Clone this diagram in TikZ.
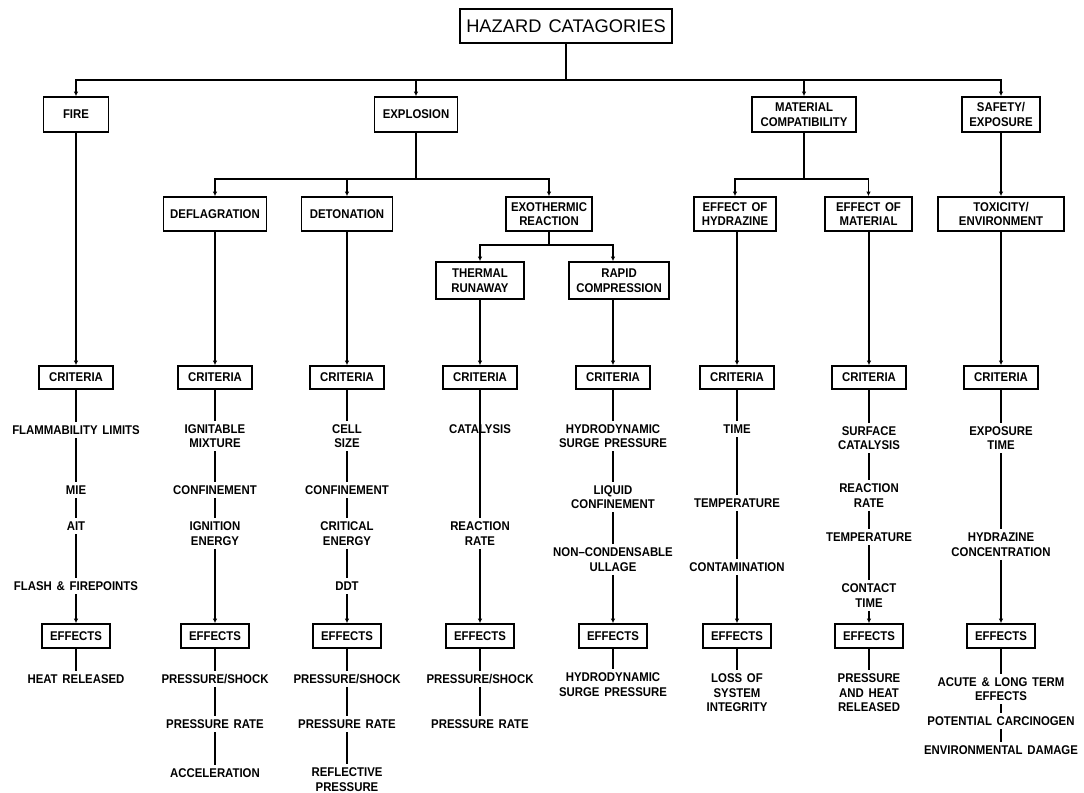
\documentclass[tikz,border=0pt]{standalone}
\usepackage{fontspec}
\usepackage{tikz}
\usetikzlibrary{arrows.meta}
\newfontfamily\cadfont{Liberation Sans}[FakeStretch=0.9, WordSpace=1.5]
\newfontfamily\titlefont{Liberation Sans}[WordSpace=1.4]
\newcommand{\px}{0.025cm}
\newcommand{\tipArrow}{{Latex[length=1.1mm, width=1.1mm]}}
\tikzset{
	hzbox/.style={draw, inner sep=0pt, align=center, minimum height=23*\px,
		font=\cadfont\bfseries\fontsize{9}{10.3}\selectfont},
	item/.style={inner sep=2pt, align=center, font=\cadfont\bfseries\fontsize{9}{10.3}\selectfont},
	feed/.style={-\tipArrow}
}

\begin{document}
\begin{tikzpicture}[x=0.025cm, y=-0.025cm, line width=1.25pt]
	\def\yc{377.5}
	\def\ye{636}
	\useasboundingbox (0,0) rectangle (1084,792);

	% top levels
	\node[hzbox, font=\titlefont\fontsize{13}{15}\selectfont, minimum width=212*\px, minimum height=34*\px] (hazard) at (566,26) {HAZARD CATAGORIES};

	\node[hzbox, minimum width=65*\px, minimum height=35*\px] (fire) at (76,114.5) {FIRE};
	\node[hzbox, minimum width=83*\px, minimum height=35*\px] (explosion) at (416,114.5) {EXPLOSION};
	\node[hzbox, minimum width=104*\px, minimum height=35*\px] (material) at (804,114.5) {MATERIAL\\COMPATIBILITY};
	\node[hzbox, minimum width=78*\px, minimum height=35*\px] (safety) at (1001,114.5) {SAFETY/\\EXPOSURE};

	\node[hzbox, minimum width=103*\px, minimum height=34*\px] (deflag) at (215,214) {DEFLAGRATION};
	\node[hzbox, minimum width=91*\px, minimum height=34*\px] (deton) at (347,214) {DETONATION};
	\node[hzbox, minimum width=86*\px, minimum height=34*\px] (exo) at (549,214) {EXOTHERMIC\\REACTION};
	\node[hzbox, minimum width=82*\px, minimum height=34*\px] (effhyd) at (735,214) {EFFECT OF\\HYDRAZINE};
	\node[hzbox, minimum width=87*\px, minimum height=34*\px] (effmat) at (868.5,214) {EFFECT OF\\MATERIAL};
	\node[hzbox, minimum width=126*\px, minimum height=34*\px] (toxic) at (1001,214) {TOXICITY/\\ENVIRONMENT};

	\node[hzbox, minimum width=88*\px, minimum height=37*\px] (thermal) at (480,280.5) {THERMAL\\RUNAWAY};
	\node[hzbox, minimum width=100*\px, minimum height=37*\px] (rapid) at (619,280.5) {RAPID\\COMPRESSION};

	% criteria and effects
	\node[hzbox, minimum width=74*\px] (firecrit) at (76,\yc) {CRITERIA};
	\node[hzbox, minimum width=74*\px] (deflcrit) at (215,\yc) {CRITERIA};
	\node[hzbox, minimum width=74*\px] (detcrit) at (347,\yc) {CRITERIA};
	\node[hzbox, minimum width=74*\px] (thermcrit) at (480,\yc) {CRITERIA};
	\node[hzbox, minimum width=74*\px] (rapidcrit) at (613,\yc) {CRITERIA};
	\node[hzbox, minimum width=74*\px] (hydcrit) at (737,\yc) {CRITERIA};
	\node[hzbox, minimum width=74*\px] (matcrit) at (869,\yc) {CRITERIA};
	\node[hzbox, minimum width=74*\px] (toxcrit) at (1001,\yc) {CRITERIA};

	\node[hzbox, minimum width=68*\px, minimum height=24*\px] (fireeff) at (76,\ye) {EFFECTS};
	\node[hzbox, minimum width=68*\px, minimum height=24*\px] (defleff) at (215,\ye) {EFFECTS};
	\node[hzbox, minimum width=68*\px, minimum height=24*\px] (deteff) at (347,\ye) {EFFECTS};
	\node[hzbox, minimum width=68*\px, minimum height=24*\px] (thermeff) at (480,\ye) {EFFECTS};
	\node[hzbox, minimum width=68*\px, minimum height=24*\px] (rapideff) at (613,\ye) {EFFECTS};
	\node[hzbox, minimum width=68*\px, minimum height=24*\px] (hydeff) at (737,\ye) {EFFECTS};
	\node[hzbox, minimum width=68*\px, minimum height=24*\px] (mateff) at (869,\ye) {EFFECTS};
	\node[hzbox, minimum width=68*\px, minimum height=24*\px] (toxeff) at (1001,\ye) {EFFECTS};

	% fire
	\node[item] (flamm) at (76,430) {FLAMMABILITY LIMITS};
	\node[item] (mie) at (76,490) {MIE};
	\node[item] (ait) at (76,526) {AIT};
	\node[item] (flash) at (76,586) {FLASH \& FIREPOINTS};
	\node[item] (heat) at (76,679) {HEAT RELEASED};

	% deflagration
	\node[item] (ignit) at (215,436) {IGNITABLE\\MIXTURE};
	\node[item] (confa) at (215,490) {CONFINEMENT};
	\node[item] (ignen) at (215,533.5) {IGNITION\\ENERGY};
	\node[item] (pressa) at (215,679) {PRESSURE/SHOCK};
	\node[item] (ratea) at (215,724) {PRESSURE RATE};
	\node[item] (accel) at (215,773) {ACCELERATION};

	% detonation
	\node[item] (cell) at (347,436) {CELL\\SIZE};
	\node[item] (confb) at (347,490) {CONFINEMENT};
	\node[item] (criten) at (347,533.5) {CRITICAL\\ENERGY};
	\node[item] (ddt) at (347,586) {DDT};
	\node[item] (pressb) at (347,679) {PRESSURE/SHOCK};
	\node[item] (rateb) at (347,724) {PRESSURE RATE};
	\node[item] (refl) at (347,779.5) {REFLECTIVE\\PRESSURE};

	% thermal runaway
	\node[item] (catal) at (480,429) {CATALYSIS};
	\node[item] (threact) at (480,533.5) {REACTION\\RATE};
	\node[item] (pressc) at (480,679) {PRESSURE/SHOCK};
	\node[item] (ratec) at (480,724) {PRESSURE RATE};

	% rapid compression
	\node[item] (hydro) at (613,436) {HYDRODYNAMIC\\SURGE PRESSURE};
	\node[item] (liquid) at (613,497) {LIQUID\\CONFINEMENT};
	\node[item] (noncond) at (613,559.5) {NON\textendash CONDENSABLE\\ULLAGE};
	\node[item] (surge) at (613,684.5) {HYDRODYNAMIC\\SURGE PRESSURE};

	% effect of hydrazine
	\node[item] (time) at (737,429) {TIME};
	\node[item] (tempa) at (737,503) {TEMPERATURE};
	\node[item] (contam) at (737,567) {CONTAMINATION};
	\node[item] (loss) at (737,693) {LOSS OF\\SYSTEM\\INTEGRITY};

	% effect of material
	\node[item] (surf) at (869,438) {SURFACE\\CATALYSIS};
	\node[item] (matreact) at (869,495.5) {REACTION\\RATE};
	\node[item] (tempb) at (869,537) {TEMPERATURE};
	\node[item] (contact) at (869,595.5) {CONTACT\\TIME};
	\node[item] (heatrel) at (869,693) {PRESSURE\\AND HEAT\\RELEASED};

	% toxicity
	\node[item] (expo) at (1001,438) {EXPOSURE\\TIME};
	\node[item] (hydconc) at (1001,544.5) {HYDRAZINE\\CONCENTRATION};
	\node[item] (acute) at (1001,689) {ACUTE \& LONG TERM\\EFFECTS};
	\node[item] (carcin) at (1001,721) {POTENTIAL CARCINOGEN};
	\node[item] (envdam) at (1001,750) {ENVIRONMENTAL DAMAGE};

	% tree connectors
	\draw (hazard.south) -- ++(0,36) coordinate (topbus);
	\draw[feed] (topbus) -| (fire);
	\draw[feed] (topbus) -| (explosion);
	\draw[feed] (topbus) -| (material);
	\draw[feed] (topbus) -| (safety);

	\draw (explosion.south) -- ++(0,46) coordinate (expbus);
	\draw[feed] (expbus) -| (deflag);
	\draw[feed] (expbus) -| (deton);
	\draw[feed] (expbus) -| (exo);
	\draw (exo.south) -- ++(0,13) coordinate (exobus);
	\draw[feed] (exobus) -| (thermal);
	\draw[feed] (exobus) -| (rapidcrit |- rapid.north);

	\draw (material.south) -- ++(0,46) coordinate (matbus);
	\draw[feed] (matbus) -| (effhyd);
	\draw[feed] (matbus) -| (effmat);
	\draw[feed] (safety) -- (toxic);

	% columns
	\draw[feed] (fire) -- (firecrit);
	\draw (firecrit) -- (flamm) -- (mie) -- (ait) -- (flash);
	\draw[feed] (flash) -- (fireeff);
	\draw (fireeff) -- (heat);

	\draw[feed] (deflag) -- (deflcrit);
	\draw (deflcrit) -- (ignit) -- (confa) -- (ignen);
	\draw[feed] (ignen) -- (defleff);
	\draw (defleff) -- (pressa) -- (ratea) -- (accel);

	\draw[feed] (deton) -- (detcrit);
	\draw (detcrit) -- (cell) -- (confb) -- (criten) -- (ddt);
	\draw[feed] (ddt) -- (deteff);
	\draw (deteff) -- (pressb) -- (rateb) -- (refl);

	\draw[feed] (thermal) -- (thermcrit);
	\draw (thermcrit) -- (threact);
	\draw[feed] (threact) -- (thermeff);
	\draw (thermeff) -- (pressc) -- (ratec);

	\draw[feed] (rapid.south -| rapidcrit) -- (rapidcrit);
	\draw (rapidcrit) -- (hydro) -- (liquid) -- (noncond);
	\draw[feed] (noncond) -- (rapideff);
	\draw (rapideff) -- (surge);

	\draw[feed] (effhyd.south -| hydcrit) -- (hydcrit);
	\draw (hydcrit) -- (time) -- (tempa) -- (contam);
	\draw[feed] (contam) -- (hydeff);
	\draw (hydeff) -- (loss);

	\draw[feed] (effmat.south -| matcrit) -- (matcrit);
	\draw (matcrit) -- (surf) -- (matreact) -- (tempb) -- (contact);
	\draw[feed] (contact) -- (mateff);
	\draw (mateff) -- (heatrel);

	\draw[feed] (toxic) -- (toxcrit);
	\draw (toxcrit) -- (expo) -- (hydconc);
	\draw[feed] (hydconc) -- (toxeff);
	\draw (toxeff) -- (acute) -- (carcin) -- (envdam);
\end{tikzpicture}
\end{document}
